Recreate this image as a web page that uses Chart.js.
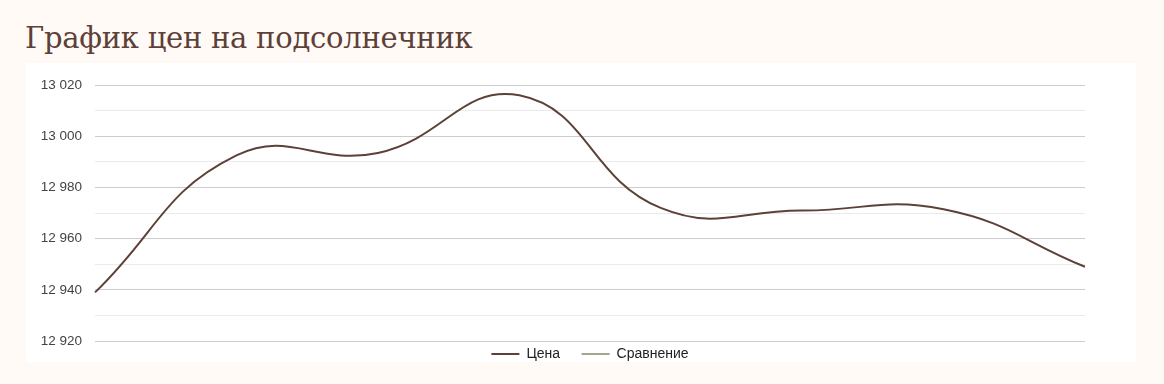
<!DOCTYPE html>
<html lang="ru">
<head>
<meta charset="utf-8">
<title>График цен на подсолнечник</title>
<script src="https://cdn.jsdelivr.net/npm/chart.js@4"></script>
<style>
  html, body { margin: 0; padding: 0; }
  body { width: 1164px; height: 384px; background: #fffaf6; position: relative; overflow: hidden; }
  h1 {
    position: absolute; left: 25px; top: 24px; margin: 0;
    font-family: 'DejaVu Serif', serif; font-weight: normal; font-size: 29px;
    line-height: 1; color: #5d4037; letter-spacing: -0.25px;
  }
  .box { position: absolute; left: 26px; top: 63px; width: 1110px; height: 299px; background: #fff; }
  canvas { position: absolute; left: 26px; top: 64px; }
</style>
</head>
<body>
<h1>График цен на подсолнечник</h1>
<div class="box"></div>
<canvas id="priceChart" width="1128" height="307"></canvas>
<script>
// price points, evenly spaced
const labels = ['1', '2', '3', '4', '5', '6', '7', '8'];
const prices = [12939, 12992.5, 12993.5, 13016, 12972, 12971, 12971.5, 12949];
const comparison = [];
const yMin = 12920;
const yMax = 13020;

const fmt = v => {
  const s = String(Math.round(v));
  return s.slice(0, -3) + ' ' + s.slice(-3);
};

const ctx = document.getElementById('priceChart').getContext('2d');
new Chart(ctx, {
  type: 'line',
  data: {
    labels,
    datasets: [
      {
        label: 'Цена',
        data: prices,
        borderColor: '#5d4037',
        backgroundColor: '#5d4037',
        borderWidth: 2,
        tension: 0.45,
        pointRadius: 0,
        fill: false,
      },
      {
        label: 'Сравнение',
        data: comparison,
        borderColor: '#a3a68b',
        backgroundColor: '#a3a68b',
        borderWidth: 2,
        pointRadius: 0,
      },
    ],
  },
  options: {
    responsive: false,
    animation: false,
    layout: { padding: { left: 0, right: 0, top: 18, bottom: 0 } },
    plugins: {
      legend: {
        position: 'bottom',
        labels: {
          color: '#222',
          font: { family: "'Liberation Sans', Arial, sans-serif", size: 14 },
          boxWidth: 28,
          boxHeight: 2,
          padding: 6,
          // pad the first label so the gap between items matches
          generateLabels: chart => chart.data.datasets.map((ds, i) => ({
            text: i === 0 ? ds.label + '\u00a0\u00a0\u00a0\u00a0' : ds.label,
            fillStyle: ds.borderColor,
            strokeStyle: ds.borderColor,
            lineWidth: 0,
            fontColor: '#222',
            datasetIndex: i,
          })),
        },
      },
      tooltip: { enabled: true },
    },
    scales: {
      x: { display: false },
      y: {
        min: yMin,
        max: yMax,
        afterFit: s => { s.width = 69; },
        border: { display: false },
        grid: {
          drawTicks: false,
          color: c => (c.tick.value % 20 === 0 ? '#cccccc' : '#ebebeb'),
        },
        ticks: {
          stepSize: 10,
          padding: 13,
          color: '#444',
          font: { family: "'Liberation Sans', Arial, sans-serif", size: 13.5 },
          callback: v => (v % 20 === 0 ? fmt(v) : ''),
        },
      },
      // empty right gutter so the legend stays centred under the plot
      y1: {
        position: 'right',
        afterFit: s => { s.width = 69; },
        border: { display: false },
        grid: { display: false },
        ticks: { display: false },
      },
    },
  },
});
</script>
</body>
</html>
